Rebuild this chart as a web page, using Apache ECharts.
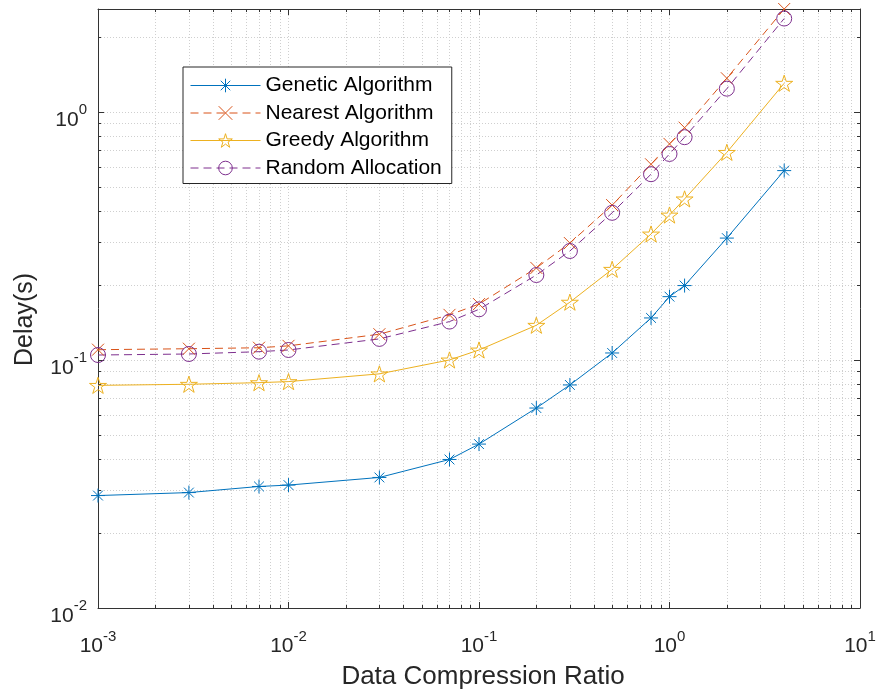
<!DOCTYPE html>
<html>
<head>
<meta charset="utf-8">
<script src="https://cdn.jsdelivr.net/npm/echarts@6/dist/echarts.min.js"></script>
<style>html,body{margin:0;padding:0;background:#fff}#c{width:878px;height:690px}</style>
</head>
<body>
<div id="c"></div>
<script>
// ---- data ----
const xValues = [0.001, 0.003, 0.007, 0.01, 0.03, 0.07, 0.1, 0.2, 0.3, 0.5, 0.8, 1, 1.2, 2, 4];
const genetic = [0.0284, 0.0292, 0.0309, 0.0313, 0.0336, 0.0397, 0.0458, 0.064, 0.0793, 0.1067, 0.1477, 0.180, 0.1995, 0.310, 0.580];
const nearest = [0.110, 0.111, 0.112, 0.114, 0.127, 0.152, 0.168, 0.235, 0.296, 0.421, 0.615, 0.743, 0.864, 1.367, 2.60];
const greedy  = [0.079, 0.0798, 0.081, 0.0818, 0.0879, 0.100, 0.1097, 0.138, 0.171, 0.232, 0.322, 0.384, 0.446, 0.687, 1.305];
const random  = [0.1047, 0.1057, 0.108, 0.1097, 0.1216, 0.1428, 0.160, 0.220, 0.275, 0.392, 0.561, 0.677, 0.791, 1.241, 2.38];
const seriesNames = ['Genetic Algorithm', 'Nearest Algorithm', 'Greedy Algorithm', 'Random Allocation'];
const xMin = 0.001, xMax = 10, yMin = 0.01, yMax = 2.6;
const xMinorTicks = [0.002,0.003,0.004,0.005,0.006,0.007,0.008,0.009,
                     0.02,0.03,0.04,0.05,0.06,0.07,0.08,0.09,
                     0.2,0.3,0.4,0.5,0.6,0.7,0.8,0.9,
                     2,3,4,5,6,7,8,9];
const yMinorTicks = [0.02,0.03,0.04,0.05,0.06,0.07,0.08,0.09,
                     0.2,0.3,0.4,0.5,0.6,0.7,0.8,0.9, 2];

// ---- styles ----
const FONT = "'Liberation Sans', Arial, Helvetica, sans-serif";
const TXT = '#262626';
const AX = '#333333';
const GRID = '#cfcfcf';
const colors = ['#0072BD', '#D95319', '#EDB120', '#7E2F8E'];
const DASH = [8, 5];
const SYM_AST = 'path://M10,0L10,20M0,10L20,10M3,3L17,17M3,17L17,3';
const SYM_X = 'path://M0,0L20,20M0,20L20,0';
const SYM_STAR = 'path://M10,0L12.245,6.91L19.511,6.91L13.633,11.18L15.878,18.09L10,13.82L4.122,18.09L6.367,11.18L0.489,6.91L7.755,6.91Z';
const symbols = [SYM_AST, SYM_X, SYM_STAR, 'circle'];
const symbolSizes = [14, 12, 17, 15];
const dashed = [false, true, false, true];

function powLabel(v) {
  const e = Math.log10(v);
  const r = Math.round(e);
  if (Math.abs(e - r) > 1e-6) return '';
  return '{b|10}{s|' + r + '}';
}
const rich = {
  b: {fontSize: 21, fontFamily: FONT, color: TXT, lineHeight: 28, verticalAlign: 'bottom'},
  s: {fontSize: 15, fontFamily: FONT, color: TXT, lineHeight: 10, verticalAlign: 'top'}
};

function hollowStyle(i) {
  return {color: 'rgba(0,0,0,0)', borderColor: colors[i], borderWidth: 1};
}

function mkSeries(i, data) {
  return {
    name: seriesNames[i], type: 'line', clip: false,
    data: xValues.map((x, k) => [x, data[k]]),
    symbol: symbols[i], symbolSize: symbolSizes[i], symbolKeepAspect: true,
    showAllSymbol: true,
    color: colors[i],
    lineStyle: {color: colors[i], width: 1, type: dashed[i] ? DASH : 'solid'},
    itemStyle: hollowStyle(i),
    emphasis: {disabled: true},
    z: 3
  };
}

function renderXMinor(params, api) {
  const v = api.value(0);
  const b = api.coord([v, yMin]);
  const t = api.coord([v, yMax]);
  const x = Math.round(b[0]) + 0.5;
  return {type: 'group', children: [
    {type: 'line', shape: {x1: x, y1: b[1], x2: x, y2: t[1]}, style: {stroke: GRID, lineWidth: 1, lineDash: [1, 2]}},
    {type: 'line', shape: {x1: x, y1: b[1], x2: x, y2: b[1] - 3}, style: {stroke: AX, lineWidth: 1}},
    {type: 'line', shape: {x1: x, y1: t[1], x2: x, y2: t[1] + 3}, style: {stroke: AX, lineWidth: 1}}
  ]};
}
function renderYMinor(params, api) {
  const v = api.value(1);
  const l = api.coord([xMin, v]);
  const r = api.coord([xMax, v]);
  const y = Math.round(l[1]) + 0.5;
  return {type: 'group', children: [
    {type: 'line', shape: {x1: l[0], y1: y, x2: r[0], y2: y}, style: {stroke: GRID, lineWidth: 1, lineDash: [1, 2]}},
    {type: 'line', shape: {x1: l[0], y1: y, x2: l[0] + 3, y2: y}, style: {stroke: AX, lineWidth: 1}},
    {type: 'line', shape: {x1: r[0], y1: y, x2: r[0] - 3, y2: y}, style: {stroke: AX, lineWidth: 1}}
  ]};
}

const chart = echarts.init(document.getElementById('c'), null, {renderer: 'canvas'});
const axisCommonX = {
  type: 'log', logBase: 10, min: xMin, max: xMax,
  axisLine: {show: true, onZero: false, lineStyle: {color: AX, width: 1}},
  axisTick: {show: true, inside: true, length: 6, lineStyle: {color: AX, width: 1}},
  minorTick: {show: false}, minorSplitLine: {show: false}
};
const axisCommonY = {
  type: 'log', logBase: 10, min: yMin, max: yMax,
  axisLine: {show: true, onZero: false, lineStyle: {color: AX, width: 1}},
  axisTick: {show: true, inside: true, length: 6, lineStyle: {color: AX, width: 1}},
  minorTick: {show: false}, minorSplitLine: {show: false}
};

chart.setOption({
  animation: false,
  backgroundColor: '#ffffff',
  textStyle: {fontFamily: FONT, color: TXT},
  grid: {left: 98, right: 18, top: 9, bottom: 82, containLabel: false, outerBoundsMode: 'none'},
  legend: {
    data: seriesNames.map((n, i) => ({
      name: n,
      itemStyle: hollowStyle(i),
      lineStyle: {color: colors[i], width: 1, type: dashed[i] ? DASH : 'solid'}
    })),
    orient: 'vertical', left: 183, top: 67,
    itemWidth: 70, itemHeight: 17, itemGap: 6.5,
    padding: [8, 10, 5, 7],
    backgroundColor: '#ffffff',
    borderColor: '#262626', borderWidth: 1,
    textStyle: {fontSize: 21, fontFamily: FONT, color: '#000', lineHeight: 21},
    selectedMode: false
  },
  xAxis: [
    Object.assign({}, axisCommonX, {
      position: 'bottom',
      name: 'Data Compression Ratio', nameLocation: 'middle', nameGap: 56,
      nameTextStyle: {fontSize: 26, fontFamily: FONT, color: TXT, padding: [0, 0, 0, 8]},
      axisLabel: {show: true, margin: 21, formatter: powLabel, rich: rich},
      splitLine: {show: true, lineStyle: {color: GRID, width: 1, type: [1, 2]}}
    }),
    Object.assign({}, axisCommonX, {
      position: 'top', axisLabel: {show: false}, splitLine: {show: false}
    })
  ],
  yAxis: [
    Object.assign({}, axisCommonY, {
      position: 'left',
      name: 'Delay(s)', nameLocation: 'middle', nameGap: 60,
      nameTextStyle: {fontSize: 25, fontFamily: FONT, color: TXT, padding: [0, 22, 0, 0]},
      axisLabel: {show: true, margin: 11, formatter: powLabel, rich: rich, padding: [9, 0, 0, 0]},
      splitLine: {show: true, lineStyle: {color: GRID, width: 1, type: [1, 2]}}
    }),
    Object.assign({}, axisCommonY, {
      position: 'right', axisLabel: {show: false}, splitLine: {show: false}
    })
  ],
  series: [
    {
      type: 'custom', name: 'xminor', xAxisIndex: 0, yAxisIndex: 0, z: 1, silent: true,
      renderItem: renderXMinor, data: xMinorTicks.map(v => [v, yMin])
    },
    {
      type: 'custom', name: 'yminor', xAxisIndex: 0, yAxisIndex: 0, z: 1, silent: true,
      renderItem: renderYMinor, data: yMinorTicks.map(v => [xMin, v])
    },
    mkSeries(0, genetic),
    mkSeries(1, nearest),
    mkSeries(2, greedy),
    mkSeries(3, random)
  ]
});
</script>
</body>
</html>
